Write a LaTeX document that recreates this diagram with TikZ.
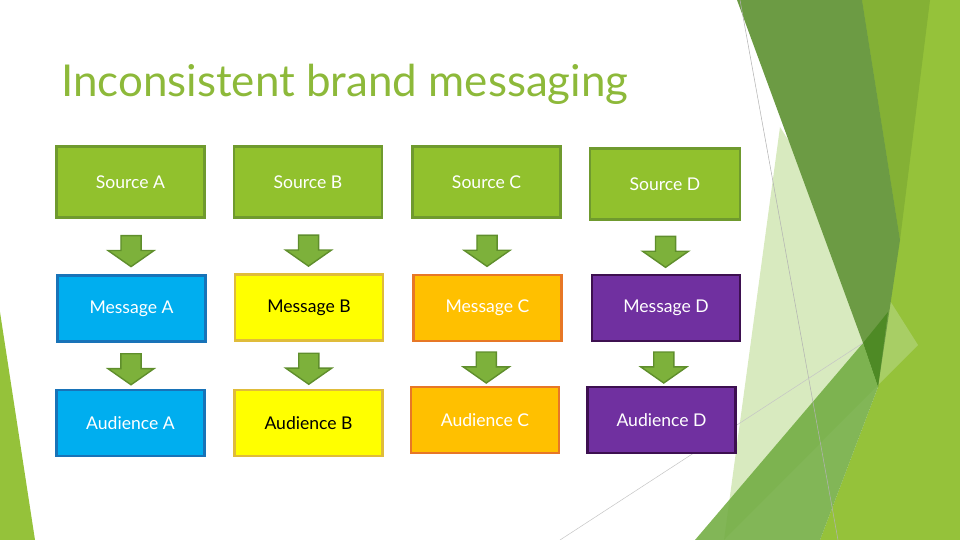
\documentclass[tikz,border=0pt]{standalone}
\usepackage{fontspec}
\setmainfont{Lato}
\usetikzlibrary{positioning, calc, shapes.arrows}
\definecolor{fGreen}{HTML}{91C12D}
\definecolor{fGreenDk}{HTML}{6F9A2E}
\definecolor{fBlue}{HTML}{00AEEF}
\definecolor{fBlueDk}{HTML}{1873B8}
\definecolor{fYellow}{HTML}{FFFF00}
\definecolor{fYellowDk}{HTML}{E0BC3A}
\definecolor{fOrange}{HTML}{FFC000}
\definecolor{fOrangeDk}{HTML}{E77726}
\definecolor{fPurple}{HTML}{7030A0}
\definecolor{fPurpleDk}{HTML}{3D1050}
\definecolor{fArrow}{HTML}{7DB13B}
\definecolor{fArrowDk}{HTML}{5F8E2C}
\definecolor{fTitle}{HTML}{8DB93A}
\definecolor{fLime}{HTML}{95C23A}
\definecolor{fOlive}{HTML}{84B135}
\definecolor{fDark}{HTML}{6C9B44}
\definecolor{fDarkest}{HTML}{4E8A25}
\definecolor{fMid}{HTML}{74AE45}
\definecolor{fPale}{HTML}{B8D88A}

\tikzset{
  box/.style={draw, line width=1.2pt, minimum width=2.96cm, font=\fontsize{10}{12}\selectfont,
    text=white},
  srcbox/.style={box, draw=fGreenDk, fill=fGreen, minimum height=1.42cm},
  rowbox/.style={box, minimum height=1.32cm},
  downarrow/.style={single arrow, draw=fArrowDk, fill=fArrow, line width=0.8pt,
    shape border rotate=270, minimum height=0.62cm, minimum width=0.92cm,
    single arrow head extend=0.25cm, single arrow tip angle=110, inner sep=0.18cm},
}

\begin{document}
\begin{tikzpicture}[x=0.02cm, y=-0.02cm]
  \useasboundingbox (0,0) rectangle (960,540);
  % facets behind the slide
  \fill[fLime] (820,540) -- (878,387) -- (862,0) -- (960,0) -- (960,540) -- cycle;
  \fill[fOlive] (862,0) -- (930,0) -- (900,240) -- cycle;
  \fill[fPale, opacity=0.55] (780,127) -- (724,540) -- (918,345) -- cycle;
  \fill[fDark] (737,0) -- (862,0) -- (900,240) -- (878,387) -- (863,343) -- cycle;
  \fill[fDarkest] (863,343) -- (888,312) -- (878,387) -- cycle;
  \fill[fMid, opacity=0.9] (695,540) -- (863,343) -- (878,387) -- (820,540) -- cycle;
  \fill[fLime] (0,312) -- (35,540) -- (0,540) -- cycle;
  \draw[gray!60, line width=0.3pt] (740,0) -- (838,540);
  \draw[gray!45, line width=0.3pt] (560,540) -- (863,343);

  \node[anchor=base west, text=fTitle, font=\fontsize{25}{30}\selectfont] (title) at (55,97)
    {Inconsistent brand messaging};

  % sources
  \node[srcbox] (srcA) at (130.5,182) {Source A};
  \node[srcbox] (srcB) at (308,182) {Source B};
  \node[srcbox] (srcC) at (486.5,182) {Source C};
  \node[srcbox, minimum width=3cm] (srcD) at (665,184) {Source D};

  % messages
  \node[rowbox, draw=fBlueDk, fill=fBlue] (msgA) at (131.5,308.5) {Message A};
  \node[rowbox, draw=fYellowDk, fill=fYellow, text=black] (msgB) at (309,307.5) {Message B};
  \node[rowbox, draw=fOrangeDk, fill=fOrange] (msgC) at (487.5,308) {Message C};
  \node[rowbox, draw=fPurpleDk, fill=fPurple] (msgD) at (666,308) {Message D};

  % audiences
  \node[rowbox, draw=fBlueDk, fill=fBlue] (audA) at (130.5,423) {Audience A};
  \node[rowbox, draw=fYellowDk, fill=fYellow, text=black] (audB) at (308.5,423) {Audience B};
  \node[rowbox, draw=fOrangeDk, fill=fOrange] (audC) at (485,420) {Audience C};
  \node[rowbox, draw=fPurpleDk, fill=fPurple] (audD) at (661.5,420) {Audience D};

  % block arrows between the rows
  \foreach \c in {A,B,C,D} {
    \node[downarrow] (arS\c) at ($(src\c.south)!0.52!(msg\c.north)$) {};
    \node[downarrow] (arM\c) at ($(msg\c.south)!0.5!(aud\c.north)$) {};
  }
\end{tikzpicture}
\end{document}
